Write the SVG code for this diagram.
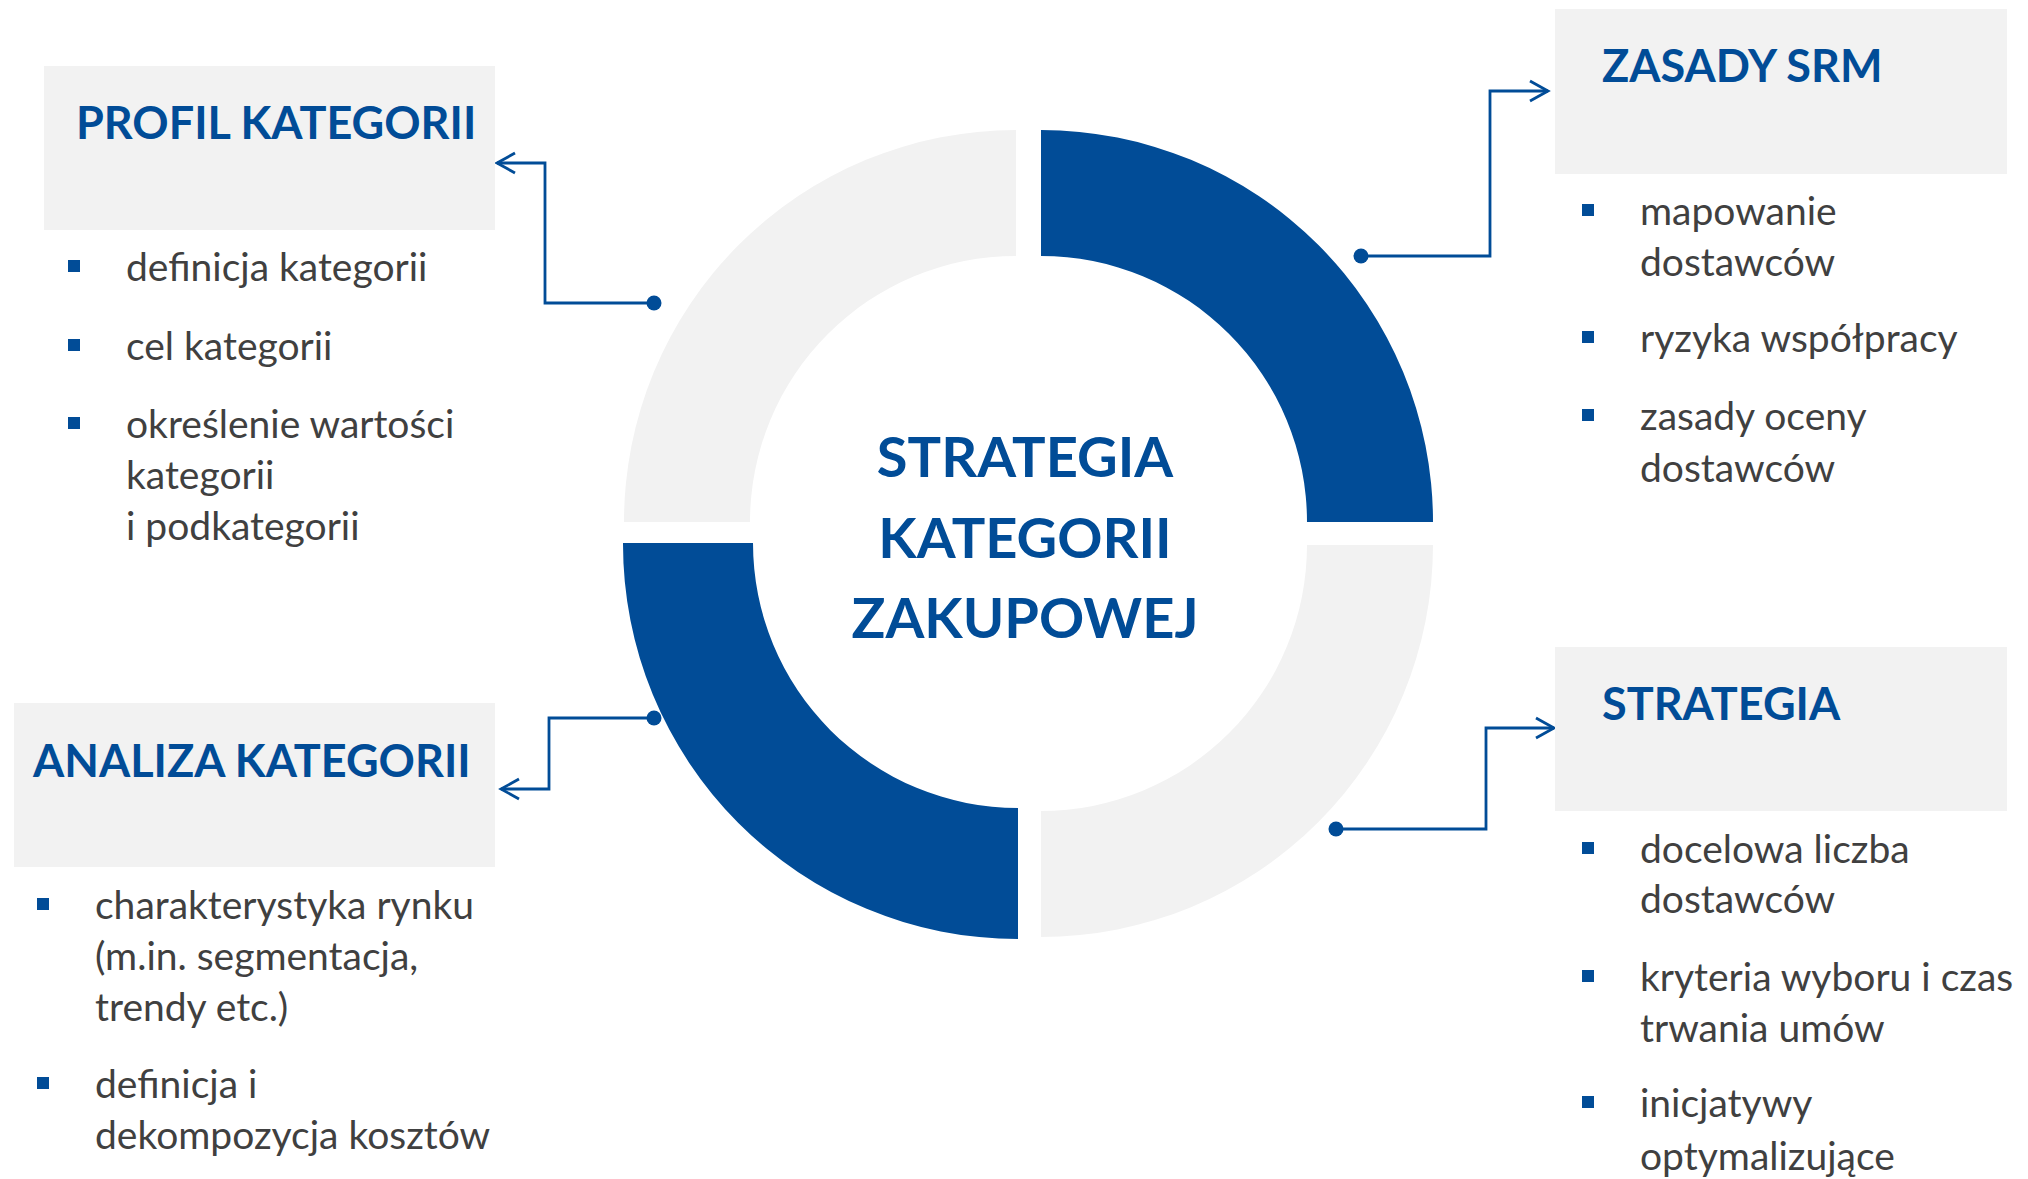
<svg xmlns="http://www.w3.org/2000/svg" width="2028" height="1179" viewBox="0 0 2028 1179">
  <defs>
    <style>
      .box { fill: #F2F2F2; }
      .ring-blue { fill: #014C97; }
      .ring-gray { fill: #F2F2F2; }
      .title { font-family: Lato, "Liberation Sans", sans-serif; font-weight: 700; font-size: 45px; fill: #014C97; }
      .center { font-family: Lato, "Liberation Sans", sans-serif; font-weight: 700; font-size: 56px; fill: #014C97; text-anchor: middle; }
      .item { font-family: Lato, "Liberation Sans", sans-serif; font-size: 39px; fill: #404040; }
      .bullet { fill: #014C97; }
      .link { fill: none; stroke: #014C97; stroke-width: 2.8; }
      .dot { fill: #014C97; }
    </style>
    <marker id="open-arrow" markerWidth="24" markerHeight="24" viewBox="-20 -12 24 24" refX="0" refY="0" orient="auto" markerUnits="userSpaceOnUse">
      <path d="M -18 -10 L 0 0 L -18 10" fill="none" stroke="#014C97" stroke-width="2.8"/>
    </marker>
  </defs>

  <rect width="2028" height="1179" fill="#FFFFFF"/>

  <!-- central ring: four quarter segments -->
  <g id="ring">
    <path class="ring-gray" d="M 624 522 A 392 392 0 0 1 1016 130 L 1016 256 A 266 266 0 0 0 750 522 Z"/>
    <path class="ring-blue" d="M 1041 130 A 392 392 0 0 1 1433 522 L 1307 522 A 266 266 0 0 0 1041 256 Z"/>
    <path class="ring-gray" d="M 1433 545 A 392 392 0 0 1 1041 937 L 1041 811 A 266 266 0 0 0 1307 545 Z"/>
    <path class="ring-blue" d="M 1018 939 A 395 395 0 0 1 623 543 L 753 543 A 265 265 0 0 0 1018 808 Z"/>
  </g>

  <g id="center-label">
    <text class="center" x="1025" y="477">STRATEGIA</text>
    <text class="center" x="1025" y="558">KATEGORII</text>
    <text class="center" x="1025" y="638">ZAKUPOWEJ</text>
  </g>

  <!-- connectors from the ring to the side panels -->
  <g id="connectors">
    <path class="link" d="M 654 303 H 545 V 163 H 497" marker-end="url(#open-arrow)"/>
    <circle class="dot" cx="654" cy="303" r="7.5"/>
    <path class="link" d="M 1361 256 H 1490 V 91 H 1548" marker-end="url(#open-arrow)"/>
    <circle class="dot" cx="1361" cy="256" r="7.5"/>
    <path class="link" d="M 654 718 H 549 V 789 H 501" marker-end="url(#open-arrow)"/>
    <circle class="dot" cx="654" cy="718" r="7.5"/>
    <path class="link" d="M 1336 829 H 1486 V 728 H 1554" marker-end="url(#open-arrow)"/>
    <circle class="dot" cx="1336" cy="829" r="7.5"/>
  </g>

  <g id="profil-kategorii">
    <rect class="box" x="44" y="66" width="451" height="164"/>
    <text class="title" x="76" y="139">PROFIL KATEGORII</text>
    <rect class="bullet" x="68" y="260" width="12" height="12"/>
    <text class="item" x="126" y="281">definicja kategorii</text>
    <rect class="bullet" x="68" y="339" width="12" height="12"/>
    <text class="item" x="126" y="360">cel kategorii</text>
    <rect class="bullet" x="68" y="417" width="12" height="12"/>
    <text class="item" x="126" y="438">określenie wartości</text>
    <text class="item" x="126" y="489">kategorii</text>
    <text class="item" x="126" y="540">i podkategorii</text>
  </g>

  <g id="zasady-srm">
    <rect class="box" x="1555" y="9" width="452" height="165"/>
    <text class="title" x="1602" y="82">ZASADY SRM</text>
    <rect class="bullet" x="1582" y="204" width="12" height="12"/>
    <text class="item" x="1640" y="225">mapowanie</text>
    <text class="item" x="1640" y="276">dostawców</text>
    <rect class="bullet" x="1582" y="331" width="12" height="12"/>
    <text class="item" x="1640" y="352">ryzyka współpracy</text>
    <rect class="bullet" x="1582" y="409" width="12" height="12"/>
    <text class="item" x="1640" y="430">zasady oceny</text>
    <text class="item" x="1640" y="482">dostawców</text>
  </g>

  <g id="analiza-kategorii">
    <rect class="box" x="14" y="703" width="481" height="164"/>
    <text class="title" x="33" y="777">ANALIZA KATEGORII</text>
    <rect class="bullet" x="37" y="898" width="12" height="12"/>
    <text class="item" x="95" y="919">charakterystyka rynku</text>
    <text class="item" x="95" y="970">(m.in. segmentacja,</text>
    <text class="item" x="95" y="1021">trendy etc.)</text>
    <rect class="bullet" x="37" y="1077" width="12" height="12"/>
    <text class="item" x="95" y="1098">definicja i</text>
    <text class="item" x="95" y="1149">dekompozycja kosztów</text>
  </g>

  <g id="strategia">
    <rect class="box" x="1555" y="647" width="452" height="164"/>
    <text class="title" x="1602" y="720">STRATEGIA</text>
    <rect class="bullet" x="1582" y="842" width="12" height="12"/>
    <text class="item" x="1640" y="863">docelowa liczba</text>
    <text class="item" x="1640" y="913">dostawców</text>
    <rect class="bullet" x="1582" y="970" width="12" height="12"/>
    <text class="item" x="1640" y="991">kryteria wyboru i czas</text>
    <text class="item" x="1640" y="1042">trwania umów</text>
    <rect class="bullet" x="1582" y="1096" width="12" height="12"/>
    <text class="item" x="1640" y="1117">inicjatywy</text>
    <text class="item" x="1640" y="1170">optymalizujące</text>
  </g>
</svg>
